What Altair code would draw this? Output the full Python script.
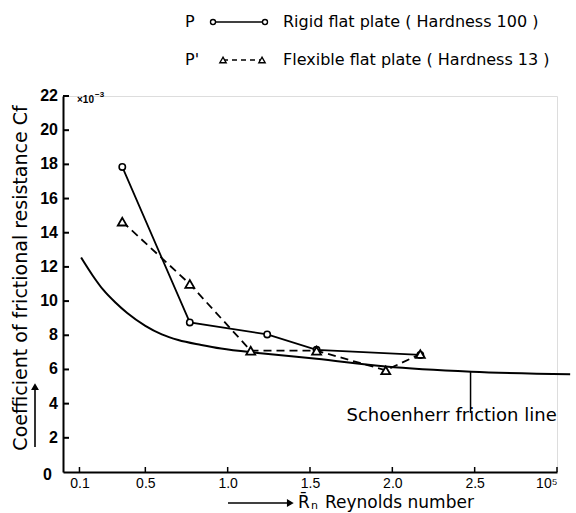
import altair as alt
import pandas as pd

# Measured friction coefficients (x10^-3) against Reynolds number (x10^5)
rigid_re = [0.36, 0.77, 1.24, 1.54, 2.17]
rigid_cf = [17.85, 8.75, 8.05, 7.15, 6.85]

flex_re = [0.36, 0.77, 1.14, 1.54, 1.96, 2.17]
flex_cf = [14.65, 11.0, 7.1, 7.1, 5.95, 6.9]

# Schoenherr friction line
sch_re = [0.11, 0.18, 0.245, 0.32, 0.39, 0.5, 0.6, 0.7, 0.84, 0.96, 1.2, 1.54, 1.96, 2.48, 3.08]
sch_cf = [12.55, 11.5, 10.65, 9.9, 9.3, 8.55, 8.05, 7.72, 7.43, 7.22, 6.95, 6.62, 6.17, 5.87, 5.72]

x_ticks = [0.1, 0.5, 1.0, 1.5, 2.0, 2.5, 3.0]
y_ticks = [2, 4, 6, 8, 10, 12, 14, 16, 18, 20, 22]
y_tick_labels = [str(v) for v in y_ticks]

FONT = "DejaVu Sans"
NUM_FONT = "Liberation Sans"
W, H = 494, 376

xs = alt.Scale(domain=[0, 3.0], nice=False, zero=False)
ys = alt.Scale(domain=[0, 22], nice=False, zero=False)

rigid = pd.DataFrame({"re": rigid_re, "cf": rigid_cf})
flex = pd.DataFrame({"re": flex_re, "cf": flex_cf})
sch = pd.DataFrame({"re": sch_re, "cf": sch_cf})

x_axis = alt.Axis(
    values=x_ticks,
    labelExpr="datum.value == 3 ? '10⁵' : format(datum.value, '.1f')",
    ticks=False, grid=False, title=None, labelOverlap=False,
    domainColor="black", domainWidth=2,
    labelFont=NUM_FONT, labelFontSize=14, labelColor="black", labelPadding=4,
)
y_axis = alt.Axis(
    values=y_ticks, labels=False,
    ticks=False, grid=False, title=None,
    domainColor="black", domainWidth=2,
)

sch_line = alt.Chart(sch).mark_line(
    color="black", strokeWidth=2, interpolate="monotone", clip=False
).encode(
    x=alt.X("re:Q", scale=xs, axis=x_axis),
    y=alt.Y("cf:Q", scale=ys, axis=y_axis),
)

rigid_line = alt.Chart(rigid).mark_line(color="black", strokeWidth=1.8).encode(
    x=alt.X("re:Q", scale=xs), y=alt.Y("cf:Q", scale=ys)
)
rigid_pts = alt.Chart(rigid).mark_point(
    shape="circle", size=40, filled=True, fill="white", stroke="black", strokeWidth=1.6, opacity=1
).encode(x=alt.X("re:Q", scale=xs), y=alt.Y("cf:Q", scale=ys))

flex_line = alt.Chart(flex).mark_line(
    color="black", strokeWidth=1.8, strokeDash=[8, 5]
).encode(x=alt.X("re:Q", scale=xs), y=alt.Y("cf:Q", scale=ys))
flex_pts = alt.Chart(flex).mark_point(
    shape="triangle-up", size=80, filled=True, fill="white", stroke="black", strokeWidth=1.8, opacity=1
).encode(x=alt.X("re:Q", scale=xs), y=alt.Y("cf:Q", scale=ys))

# inward tick marks and y tick labels
y_df = pd.DataFrame({"v": y_ticks, "t": y_tick_labels})
y_tick_marks = alt.Chart(y_df).mark_rule(color="black", strokeWidth=2).encode(
    x=alt.value(0), x2=alt.value(6), y=alt.Y("v:Q", scale=ys)
)
y_tick_text = alt.Chart(y_df).mark_text(
    font=NUM_FONT, fontSize=16, fontWeight="bold", color="black", align="right", baseline="middle"
).encode(x=alt.value(-5), y=alt.Y("v:Q", scale=ys), text="t:N")
x_tick_marks = alt.Chart(pd.DataFrame({"v": x_ticks})).mark_rule(
    color="black", strokeWidth=1.5
).encode(x=alt.X("v:Q", scale=xs), y=alt.value(H), y2=alt.value(H - 5))

# Schoenherr label and leader line
leader = alt.Chart(pd.DataFrame({"re": [2.475], "top": [5.87], "bot": [3.45]})).mark_rule(
    color="black", strokeWidth=1.5
).encode(x=alt.X("re:Q", scale=xs), y=alt.Y("top:Q", scale=ys), y2="bot:Q")
leader_txt = alt.Chart(pd.DataFrame({"re": [2.36], "cf": [3.28], "t": ["Schoenherr friction line"]})).mark_text(
    font=FONT, fontSize=18, color="black", baseline="middle", align="center"
).encode(x=alt.X("re:Q", scale=xs), y=alt.Y("cf:Q", scale=ys), text="t:N")


def label(text, x, y, size=16, align="left", angle=0, weight="normal", font=FONT):
    kw = dict(font=font, fontSize=size, color="black", align=align, baseline="middle", fontWeight=weight)
    if angle:
        kw["angle"] = angle
    return alt.Chart(pd.DataFrame({"t": [text]})).mark_text(**kw).encode(
        x=alt.value(x), y=alt.value(y), text="t:N"
    )


def seg(x1, x2, y1, y2, dash=None, width=1.6):
    kw = dict(color="black", strokeWidth=width)
    if dash:
        kw["strokeDash"] = dash
    return alt.Chart(pd.DataFrame({"a": [0]})).mark_rule(**kw).encode(
        x=alt.value(x1), x2=alt.value(x2), y=alt.value(y1), y2=alt.value(y2)
    )


def sym(shape, x, y, size, filled=False):
    return alt.Chart(pd.DataFrame({"a": [0]})).mark_point(
        shape=shape, size=size, filled=True, fill="black" if filled else "white",
        stroke="black", strokeWidth=1.4, opacity=1
    ).encode(x=alt.value(x), y=alt.value(y))


# legend
r1, r2 = -74, -36
legend = [
    label("P", 122, r1, 16),
    seg(150, 202, r1, r1),
    sym("circle", 150, r1, 25),
    sym("circle", 202, r1, 25),
    label("Rigid flat plate ( Hardness 100 )", 220, r1, 16),
    label("P'", 122, r2, 16),
    seg(160, 199, r2, r2, dash=[5, 4]),
    sym("triangle-up", 160, r2, 40),
    sym("triangle-up", 199, r2, 40),
    label("Flexible flat plate ( Hardness 13 )", 220, r2, 16),
]

# axis titles and decorations
extras = [
    label("×10", 14, 4, 10, font=NUM_FONT, weight="bold"),
    label("−3", 32, -1, 8, font=NUM_FONT, weight="bold"),
    label("Coefficient of frictional resistance  Cf", -42, 182, 19, align="center", angle=270),
    seg(-28, -28, 351, 291),
    sym("triangle-up", -28, 291, 30, filled=True),
    label("0", -11, 379, 16, align="right", weight="bold", font=NUM_FONT),
    seg(165, 227, 407, 407),
    sym("triangle-right", 227, 407, 30, filled=True),
    label("R̄", 235, 407, 17),
    label("n", 248, 410, 11),
    label("Reynolds number", 262, 407, 17),
]

chart = alt.layer(
    sch_line, rigid_line, flex_line, rigid_pts, flex_pts,
    y_tick_marks, y_tick_text, x_tick_marks, leader, leader_txt,
    *legend, *extras,
).properties(
    width=W, height=H,
    autosize=alt.AutoSizeParams(type="none"),
    padding={"left": 63, "top": 96, "right": 19, "bottom": 41},
).configure_view(stroke=None).configure(background="white")

chart.save("out.html", embed_options={"renderer": "svg", "actions": False})
